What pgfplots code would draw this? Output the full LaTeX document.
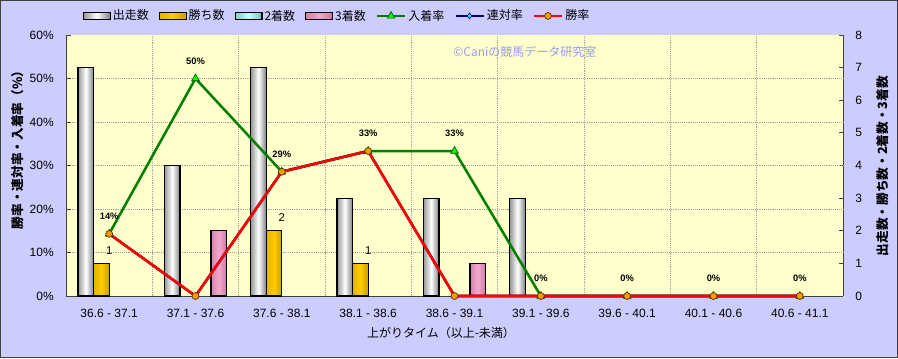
\documentclass[border=0pt]{standalone}
\usepackage{fontspec}
\setmainfont{Noto Sans CJK JP}
\newfontfamily\latin{Liberation Sans}
\usepackage{pgfplots}
\pgfplotsset{compat=1.18}
\definecolor{bgl}{HTML}{CCCCFF}
\definecolor{plotbg}{HTML}{FFFFCC}
\definecolor{gridc}{HTML}{A0A0A0}
\definecolor{axc}{HTML}{404040}
\definecolor{goldc}{HTML}{FFCC00}
\definecolor{pinkc}{HTML}{F59AC6}
\definecolor{cyanl}{HTML}{CCFFFF}
\definecolor{greenl}{HTML}{008000}
\definecolor{greenm}{HTML}{00FF00}
\definecolor{redl}{HTML}{FF0000}
\definecolor{orangem}{HTML}{FF9900}
\definecolor{navyl}{HTML}{000080}
\definecolor{cyanm}{HTML}{00FFFF}
\definecolor{copyc}{HTML}{9A9AF0}
\pgfplotsset{
 barleg/.style={legend image code/.code={\draw[##1] (0pt,-2.6pt) rectangle (20pt,2.6pt);}},
 lineleg/.style={legend image code/.code={\draw[mark repeat=2,mark phase=2,##1] plot coordinates {(0pt,0pt) (10.5pt,0pt) (21pt,0pt)};}},
 runbar/.style={draw=black, line width=0.9pt, left color=black!40, right color=black!50, middle color=white},
 winbar/.style={draw=black, line width=0.9pt, left color=goldc!88!black, right color=goldc!78!black, middle color=goldc},
 secbar/.style={draw=black, line width=0.9pt, left color=cyanl!60!teal, right color=cyanl!50!teal, middle color=cyanl},
 thrbar/.style={draw=black, line width=0.9pt, left color=pinkc!85!black, right color=pinkc!80!black, middle color=pinkc!85!white},
 runp/.style={ybar, bar width=0.18, bar shift=-0.27, runbar},
 winp/.style={ybar, bar width=0.18, bar shift=-0.09, winbar,
   point meta=explicit symbolic, nodes near coords,
   every node near coord/.append style={font=\latin\fontsize{8.5}{9}\selectfont, text=black, anchor=center, yshift=9.75pt}},
 thrp/.style={ybar, bar width=0.18, bar shift=0.27, thrbar},
}
\begin{document}
\begin{tikzpicture}
\fill[bgl] (0,0) rectangle (673.5pt,268.5pt);
\draw[axc, line width=0.75pt] (0.375pt,0.375pt) rectangle (673.125pt,268.125pt);

\begin{axis}[
 at={(49.5pt,46.5pt)}, anchor=south west, scale only axis,
 width=582.75pt, height=195.75pt,
 xmin=-0.5, xmax=8.5, ymin=0, ymax=8,
 clip=false,
 /pgf/number format/assume math mode=true,
 axis background/.style={fill=plotbg},
 axis x line*=bottom, axis y line*=right,
 axis line style={-, draw=axc, line width=0.75pt},
 xtick={0,...,8},
 xticklabels={36.6 - 37.1, 37.1 - 37.6, 37.6 - 38.1, 38.1 - 38.6, 38.6 - 39.1, 39.1 - 39.6, 39.6 - 40.1, 40.1 - 40.6, 40.6 - 41.1},
 xticklabel style={font=\latin\fontsize{9}{10}\selectfont, anchor=center, yshift=-12.75pt},
 major x tick style={draw=none},
 minor xtick={0.5,1.5,...,7.5},
 minor x tick style={draw=none},
 xminorgrids=true,
 minor grid style={gridc, densely dotted, line width=0.6pt},
 ytick={0,...,8},
 yticklabel style={font=\latin\fontsize{9}{10}\selectfont, anchor=west, inner sep=0pt, xshift=9pt},
 tick align=inside, major tick length=3pt,
 tick style={axc, line width=0.6pt},
 extra y ticks={1.33333,2.66667,4,5.33333,6.66667},
 extra y tick labels={},
 extra y tick style={grid=major, major tick length=0pt, major grid style={gridc, densely dotted, line width=0.6pt}},
]
% 出走数
\addplot[runp] coordinates {(0,7)};
\addplot[runp] coordinates {(1,4)};
\addplot[runp] coordinates {(2,7)};
\addplot[runp] coordinates {(3,3)};
\addplot[runp] coordinates {(4,3)};
\addplot[runp] coordinates {(5,3)};
% 勝ち数
\addplot[winp] coordinates {(0,1)[1]};
\addplot[winp] coordinates {(2,2)[2]};
\addplot[winp] coordinates {(3,1)[1]};
% 3着数
\addplot[thrp] coordinates {(1,2)};
\addplot[thrp] coordinates {(4,1)};
\end{axis}

\begin{axis}[
 at={(49.5pt,46.5pt)}, anchor=south west, scale only axis,
 width=582.75pt, height=195.75pt,
 xmin=-0.5, xmax=8.5, ymin=0, ymax=60,
 clip=false,
 /pgf/number format/assume math mode=true,
 hide x axis,
 axis y line*=left,
 axis line style={-, draw=axc, line width=0.75pt},
 ytick={0,10,...,60},
 yticklabel={\pgfmathprintnumber{\tick}\%},
 yticklabel style={font=\latin\fontsize{9}{10}\selectfont, anchor=east, inner sep=0pt, xshift=-9pt},
 tick align=inside, major tick length=4pt,
 tick style={axc, line width=0.6pt},
 legend columns=-1,
 legend cell align=left,
 legend style={at={(0.0215,1.073)}, anchor=west, draw=none, fill=none, inner sep=0pt,
   font=\fontsize{9}{10}\selectfont,
   nodes={inner xsep=1.5pt, inner ysep=0pt},
   /tikz/every even column/.append style={column sep=6pt}},
]
\addlegendimage{barleg, runbar}
\addlegendentry{出走数}
\addlegendimage{barleg, winbar}
\addlegendentry{勝ち数}
\addlegendimage{barleg, secbar}
\addlegendentry{2着数}
\addlegendimage{barleg, thrbar}
\addlegendentry{3着数}
\addplot[greenl, line width=1.9pt, lineleg, mark=triangle*, mark size=3.3pt,
  mark options={fill=greenm, draw=greenl!70!black, line width=0.5pt},
  point meta=explicit symbolic, nodes near coords,
  every node near coord/.append style={font=\latin\bfseries\fontsize{7}{8}\selectfont, text=black, anchor=center, yshift=13pt}]
  coordinates {(0,14.29)[14\%] (1,50)[50\%] (2,28.57)[29\%] (3,33.33)[33\%] (4,33.33)[33\%] (5,0)[0\%] (6,0)[0\%] (7,0)[0\%] (8,0)[0\%]};
\addlegendentry{入着率}
\addplot[navyl, line width=1.9pt, lineleg, mark=diamond*, mark size=2.2pt,
  mark options={fill=cyanm, draw=navyl, line width=0.5pt}]
  coordinates {(0,14.29) (1,0) (2,28.57) (3,33.33) (4,0) (5,0) (6,0) (7,0) (8,0)};
\addlegendentry{連対率}
\addplot[redl, line width=1.9pt, lineleg, mark=*, mark size=2.6pt,
  mark options={fill=orangem, draw=black!70!orangem, line width=0.5pt}]
  coordinates {(0,14.29) (1,0) (2,28.57) (3,33.33) (4,0) (5,0) (6,0) (7,0) (8,0)};
\addlegendentry{勝率}
\node[copyc, font=\fontsize{9}{10}\selectfont] at (rel axis cs:0.5907,0.936) {©Caniの競馬データ研究室};
\end{axis}

\node[rotate=90, font=\bfseries\fontsize{9.5}{10}\selectfont] at (13.5pt,158.25pt) {勝率・連対率・入着率（\%）};
\node[rotate=90, font=\bfseries\fontsize{9.5}{10}\selectfont] at (662pt,144pt) {出走数・勝ち数・2着数・3着数};
\node[font=\fontsize{9}{10}\selectfont] at (330.75pt,18.75pt) {上がりタイム（以上-未満）};
\pgfresetboundingbox
\useasboundingbox (0,0) rectangle (673.5pt,268.5pt);
\end{tikzpicture}
\end{document}
